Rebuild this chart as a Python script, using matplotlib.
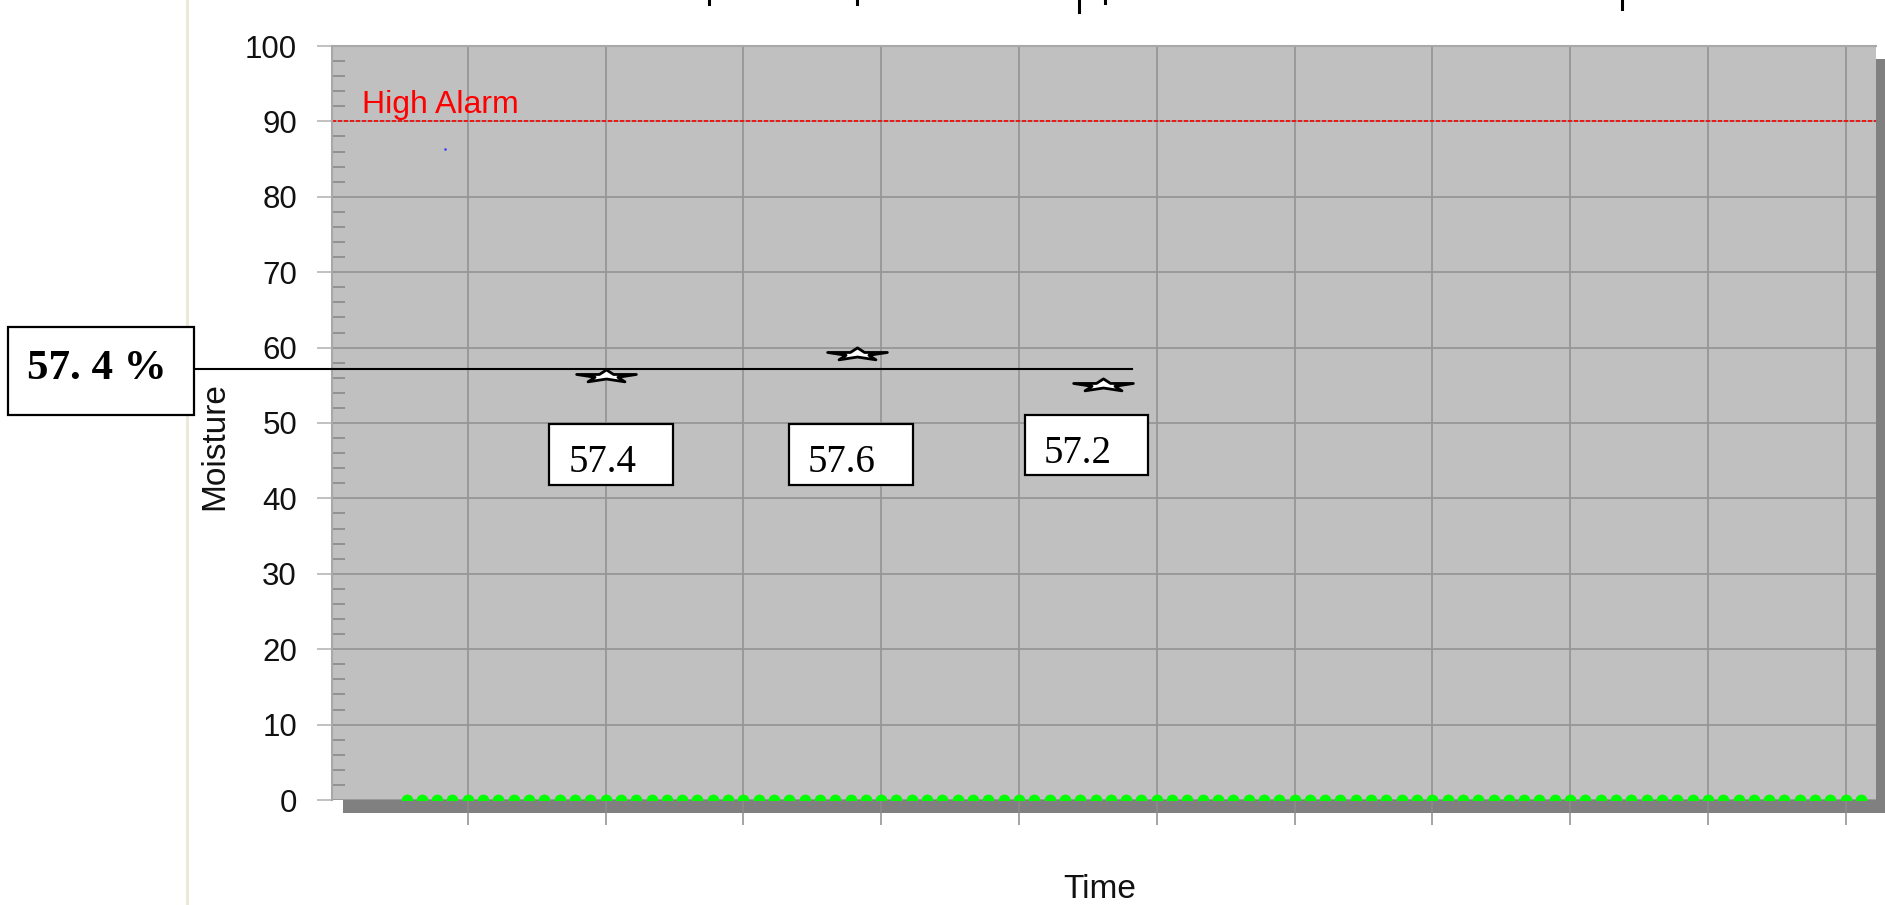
import numpy as np
import matplotlib
matplotlib.use('Agg')
import matplotlib.pyplot as plt
from matplotlib.path import Path
from matplotlib.markers import MarkerStyle
from matplotlib.patches import Rectangle
from matplotlib.lines import Line2D

plt.rcParams['font.family'] = ['Liberation Sans', 'DejaVu Sans']

# ---- data ----
# sample index of each logged point (x axis has no labels, just "Time")
sample_times = list(range(96))
sample_values = [0] * 96            # green trace, all at zero
grid_times = [4, 13, 22, 31, 40, 49, 58, 67, 76, 85, 94]
x_range = (-4.87, 95.98)

star_times = [13.0, 29.4, 45.5]
star_values = [56.2, 59.1, 55.1]
star_labels = ['57.4', '57.6', '57.2']

avg_value = 57.2
avg_label = '57. 4 %'
avg_span = (-13.8, 47.4)

high_alarm = 90
stray_point = (2.5, 86.3)

y_major = list(range(0, 101, 10))
y_minor = list(range(0, 101, 2))

# tails of the cut-off title peeking in at the top edge (x px, length px)
title_tails_x = [709, 857, 1079, 1105, 1622]
title_tails_len = [4, 4, 12, 3, 9]

W, H = 1885, 905


def fx(px):
    return px / W


def fy(py):
    return 1 - py / H


def box(fig, x0, y0, x1, y1):
    r = Rectangle((fx(x0), fy(y1)), (x1 - x0) / W, (y1 - y0) / H,
                  transform=fig.transFigure, fc='white', ec='black',
                  lw=1.6, zorder=5)
    fig.add_artist(r)


fig = plt.figure(figsize=(W / 100, H / 100), dpi=100)
fig.patch.set_facecolor('white')

# left separator of the window
fig.add_artist(Line2D([fx(187), fx(187)], [0, 1], transform=fig.transFigure,
                      color='#ece9d8', lw=2.2, zorder=-2))

ax = fig.add_axes([fx(332), fy(800), (1876 - 332) / W, (800 - 46) / H])
ax.set_facecolor('#c0c0c0')

# drop shadow behind the plot area
fig.add_artist(Rectangle((fx(343), fy(813)), (1890 - 343) / W, (813 - 59) / H,
                         transform=fig.transFigure, fc='#808080', ec='none',
                         zorder=-1))

ax.set_xlim(*x_range)
ax.set_ylim(0, 100)
ax.set_xticks(grid_times)
ax.set_xticklabels([])
ax.set_yticks(y_major)
ax.set_yticks(y_minor, minor=True)
ax.set_axisbelow(True)
ax.grid(True, which='major', color='#969696', lw=1.3)

ax.tick_params(axis='x', which='major', direction='out', length=18,
               width=1.1, color='#8c8c8c')
ax.tick_params(axis='y', which='major', direction='out', length=10.8,
               width=1.1, color='#b0b0b0', labelsize=22.5, pad=14.4,
               labelcolor='#111111')
ax.tick_params(axis='y', which='minor', direction='in', length=9.4,
               width=1.1, color='#858585')

for s in ['right', 'bottom']:
    ax.spines[s].set_visible(False)
for s in ['left', 'top']:
    ax.spines[s].set_color('#a8a8a8')
    ax.spines[s].set_linewidth(1.5)

# high alarm
ax.axhline(high_alarm, color='#ff0000', lw=1.2, dashes=(2.4, 1.2))
ax.text(-2.9, 91.1, 'High Alarm', color='#ff0000', fontsize=23,
        va='baseline', ha='left')

# logged trace
ax.plot(sample_times, sample_values, 'o', color='#00ff00', ms=8.5,
        mec='none', zorder=3)
ax.plot(*stray_point, 'o', color='#3333ff', ms=1.8, mec='none')

# flattened star marker
star = Path.unit_regular_star(5, 0.381966)
verts = star.vertices * np.array([1.0, 0.21])
flat_star = MarkerStyle(Path(verts, star.codes))

ax.plot([avg_span[0], avg_span[1]], [avg_value, avg_value], color='black',
        lw=1.5, clip_on=False, zorder=4)
ax.plot(star_times, star_values, linestyle='none', marker=flat_star, ms=43,
        mfc='white', mec='black', mew=2.0, zorder=5)

# callout boxes
box(fig, 7.6, 327, 194, 415)
fig.text(fx(27), fy(379), avg_label, family='Liberation Serif',
         fontweight='bold', fontsize=31, va='baseline', ha='left', zorder=6)

label_boxes = [(549, 424, 673, 485), (789, 424, 913, 485),
               (1024.5, 415, 1148, 475)]
label_text_pos = [(569, 472), (808, 472), (1044, 463)]
for lab, b, tp in zip(star_labels, label_boxes, label_text_pos):
    box(fig, *b)
    fig.text(fx(tp[0]), fy(tp[1]), lab, family='Liberation Serif',
             fontsize=28, va='baseline', ha='left', zorder=6)

fig.text(fx(215), fy(446), 'Moisture', rotation=90, fontsize=24,
         ha='center', va='center', color='#111111')
fig.text(fx(1100), fy(889), 'Time', fontsize=24, ha='center', va='center',
         color='#111111')

for px, ln in zip(title_tails_x, title_tails_len):
    fig.add_artist(Line2D([fx(px), fx(px)], [fy(0), fy(ln)],
                          transform=fig.transFigure, color='black', lw=2.2))

plt.savefig('out.png', dpi=100)
